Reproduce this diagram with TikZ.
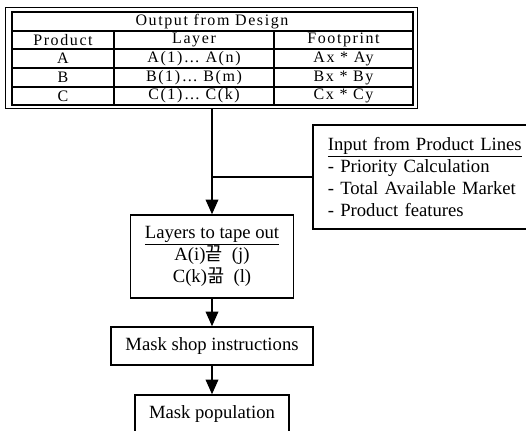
\documentclass[tikz,border=0pt]{standalone}
\usepackage{fontspec}
\setmainfont{Liberation Serif}
\newfontfamily\krfont{Noto Sans CJK KR}
\newfontfamily\spacedfont[LetterSpace=10]{Liberation Serif}
\usetikzlibrary{arrows.meta}

\begin{document}
\begin{tikzpicture}[x=0.75pt,y=-0.75pt,
        box/.style={draw,line width=1.1pt,inner sep=0pt,align=center,
            font=\fontsize{14}{16.5}\selectfont},
        flow/.style={line width=1.1pt,-{Triangle[width=9.5pt,length=11pt]}},
        cell/.style={font=\spacedfont\fontsize{12}{14}\selectfont}]
        \useasboundingbox (0,0) rectangle (526,431);

        % --- OUTPUT FROM DESIGN (TABLE) ---
        \draw[line width=0.75pt] (5,8) rectangle (417,109);
        \draw[line width=1.5pt] (12,12) rectangle (413,105);
        \foreach \y in {31,49,68,87} \draw[line width=1.5pt] (12,\y) -- (413,\y);
        \foreach \x in {114,274} \draw[line width=1.5pt] (\x,31) -- (\x,105);

        \node[cell] (title) at (212,21.5) {Output from Design};
        \node[cell] (hprod) at (63,40) {Product};
        \node[cell] (hlayer) at (194,40) {Layer};
        \node[cell] (hfoot) at (343.5,40) {Footprint};

        \node[cell] (pa) at (63,58.5) {A};
        \node[cell] (la) at (194,58.5) {A(1)… A(n)};
        \node[cell] (fa) at (343.5,58.5) {Ax * Ay};
        \node[cell] (pb) at (63,77.5) {B};
        \node[cell] (lb) at (194,77.5) {B(1)… B(m)};
        \node[cell] (fb) at (343.5,77.5) {Bx * By};
        \node[cell] (pc) at (63,96) {C};
        \node[cell] (lc) at (194,96) {C(1)… C(k)};
        \node[cell] (fc) at (343.5,96) {Cx * Cy};

        \coordinate (design) at (212,109);

        % --- BOXES ---
        \node[box,minimum height=78pt,text width=146pt,
            align=left,inner xsep=11.25pt] (input) at (425.2,177)
            {\underline{Input from Product Lines}\\- Priority Calculation\\
             - Total Available Market\\- Product features};
        \node[box,minimum width=122.25pt,minimum height=62.25pt] (layers) at (212,256.5)
            {\underline{Layers to tape out}\\A(i){\krfont 끝}\ \ (j)\\C(k){\krfont 끎}\ \ (l)};
        \node[box,minimum width=151.5pt,minimum height=28.5pt] (shop) at (212,346)
            {Mask shop instructions};
        \node[box,minimum width=115.5pt,minimum height=28.5pt] (pop) at (212,414)
            {Mask population};

        % --- CONNECTORS ---
        \draw[flow] (design) -- (layers.north);
        \coordinate (join) at (212,177);
        \draw[line width=0.9pt] (input.west) -- (join);
        \draw[flow] (layers.south) -- (shop.north);
        \draw[flow] (shop.south) -- (pop.north);
    \end{tikzpicture}
\end{document}
